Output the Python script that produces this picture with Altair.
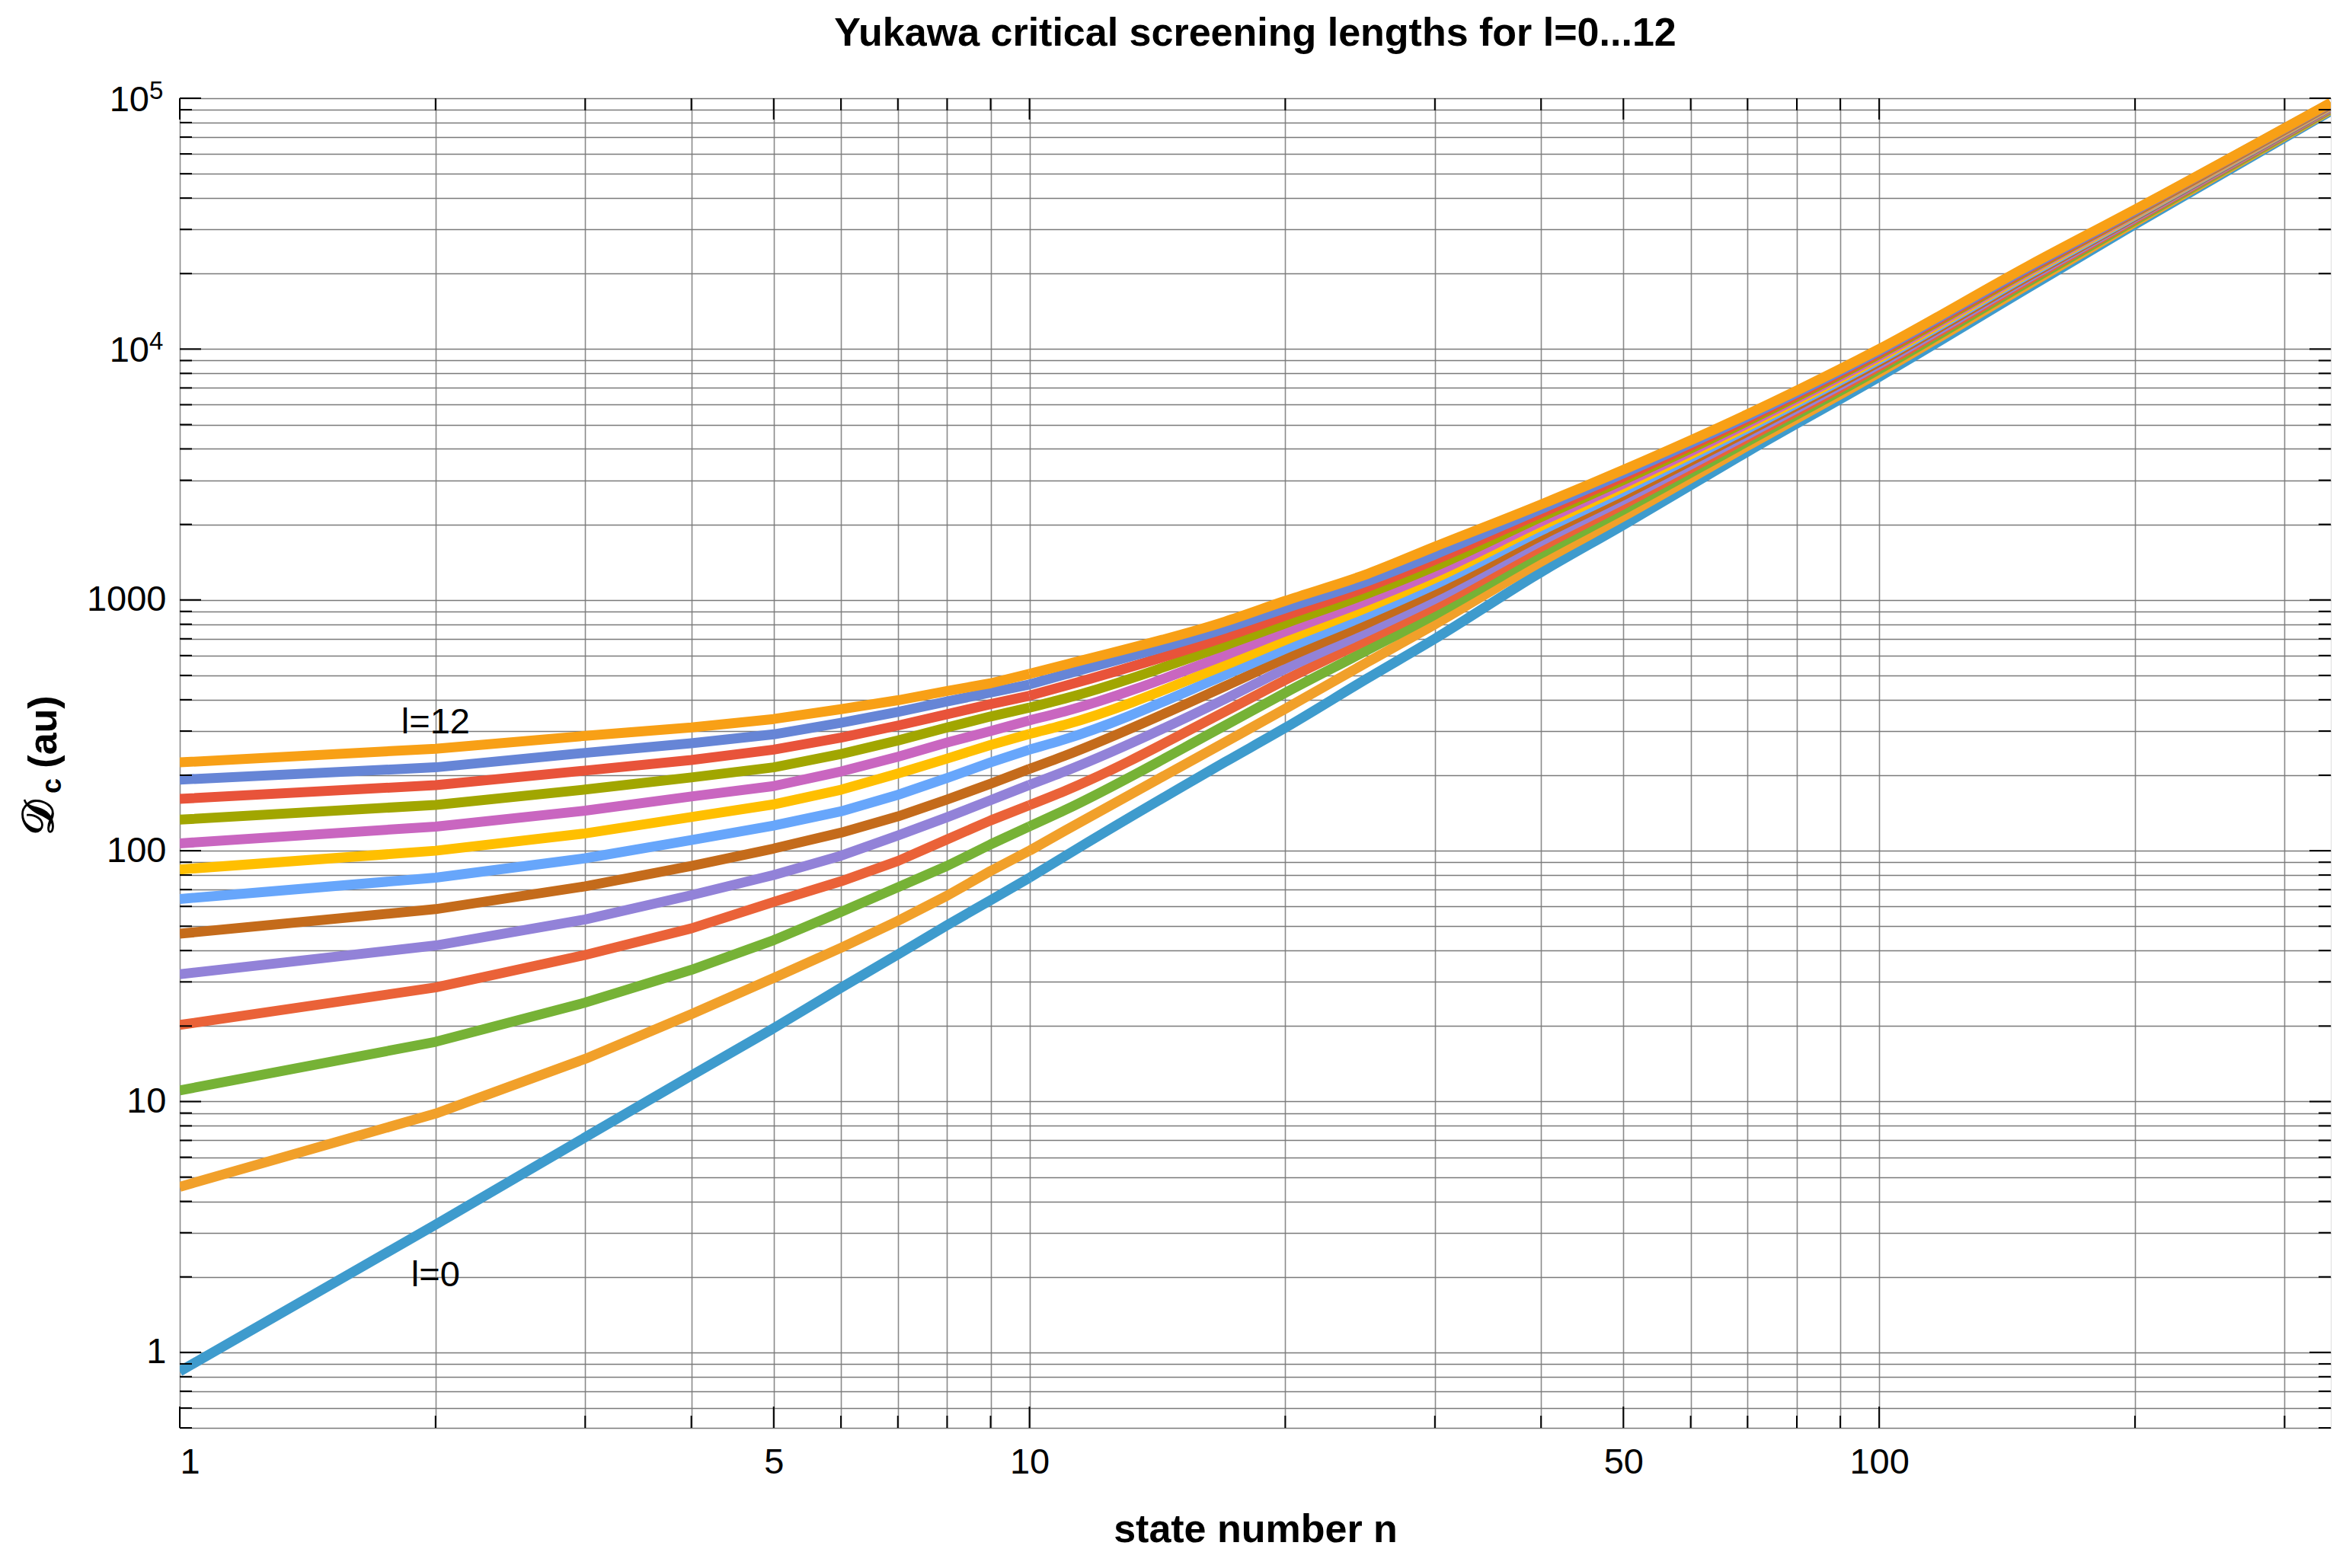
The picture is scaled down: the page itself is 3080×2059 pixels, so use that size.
import altair as alt
import pandas as pd

# ---------------- data ----------------
n_values = [1, 2, 3, 4, 5, 6, 7, 8, 9, 10, 11, 17, 20, 25, 30, 40, 50, 70, 100, 150, 200, 340]

d_l0 = [0.84, 3.23, 7.2, 12.7, 19.6, 28.4, 38.6, 50.5, 63.5, 78, 95, 226, 309, 487, 700, 1290, 1990, 3900, 7750, 17600, 31400, 89000]
d_l1 = [4.57, 8.95, 14.8, 22.3, 31.1, 41, 52.5, 66.2, 83, 100, 120, 271, 368, 565, 799, 1420, 2152, 4114, 8063, 18155, 32075, 90050]
d_l2 = [11.08, 17.3, 24.8, 33.5, 44, 57, 71.5, 87, 106, 125, 145, 316, 426, 631, 874, 1530, 2288, 4287, 8312, 18595, 32604, 90860]
d_l3 = [20.2, 28.5, 38.4, 49, 62.5, 75.5, 91, 111, 132, 152, 173, 359, 479, 694, 944, 1628, 2406, 4436, 8527, 18971, 33058, 91550]
d_l4 = [32.2, 41.9, 53.2, 66.5, 80, 95.5, 115, 136, 159, 183, 207, 403, 531, 750, 1009, 1716, 2511, 4568, 8714, 19297, 33440, 92140]
d_l5 = [46.7, 58.5, 72.1, 87, 102, 118, 137, 160, 185, 212, 239, 453, 584, 809, 1078, 1804, 2615, 4696, 8894, 19606, 33812, 92720]
d_l6 = [64.2, 78.1, 93.3, 110.3, 126, 143.5, 167, 195, 225, 253, 278, 502, 638, 874, 1151, 1890, 2716, 4819, 9066, 19902, 34156, 93230]
d_l7 = [84.2, 100, 117.2, 136.3, 153, 175, 203, 233, 264, 292, 317.5, 550, 692, 934, 1219, 1974, 2814, 4936, 9228, 20184, 34488, 93730]
d_l8 = [107, 124.8, 144.4, 164.5, 181, 207, 237, 270, 300, 331, 359, 602, 748, 995, 1285, 2055, 2908, 5048, 9383, 20450, 34799, 94200]
d_l9 = [133, 152.3, 175.3, 196, 215, 243, 275, 310, 343, 372, 404, 659, 806, 1059, 1360, 2140, 3006, 5162, 9540, 20716, 35104, 94660]
d_l10 = [161, 182.5, 208.7, 230, 253, 282.5, 315.5, 350, 384, 415, 453.5, 712, 865, 1127, 1443, 2221, 3098, 5268, 9687, 20966, 35396, 95100]
d_l11 = [192, 215, 245.5, 268, 291, 323.6, 357.6, 393.8, 427, 460, 503.6, 769, 926, 1188, 1517, 2305, 3193, 5379, 9835, 21224, 35683, 95540]
d_l12 = [225, 255, 287, 310, 335, 366.6, 398, 433, 465, 507, 551, 820, 991, 1270, 1630, 2400, 3300, 5500, 10000, 21500, 36000, 96000]

series = [d_l0, d_l1, d_l2, d_l3, d_l4, d_l5, d_l6, d_l7, d_l8, d_l9, d_l10, d_l11, d_l12]
colors = ["#3E9BCD", "#F1A02A", "#76B236", "#EA6238", "#9282D8", "#C46B1B", "#67A6FB",
          "#FFBF00", "#C966C0", "#A1A600", "#E8533A", "#6685D6", "#F8A016"]

x_grid = [1, 2, 3, 4, 5, 6, 7, 8, 9, 10, 20, 30, 40, 50, 60, 70, 80, 90, 100, 200, 300]
x_major = [1, 5, 10, 50, 100]
y_grid = [0.5, 0.6, 0.7, 0.8, 0.9]
for dec in [1, 10, 100, 1000, 10000]:
    y_grid += [k * dec for k in range(1, 10)]
y_grid += [100000]
y_major = [1, 10, 100, 1000, 10000, 100000]

power_ticks = [10000, 100000]
power_base = ["10", "10"]
power_exp = ["4", "5"]

curve_labels = ["l=12", "l=0"]
curve_label_n = [2, 2]
curve_label_D = [323, 2.03]

title_text = "Yukawa critical screening lengths for l=0...12"
x_title = "state number n"

# ---------------- layout ----------------
W, H = 2824, 1746
FONT = "Liberation Sans"
SPLIT_N = 10  # straight segments at small n, smooth curve beyond

xscale = alt.Scale(type="log", domain=[1, 340], nice=False)
yscale = alt.Scale(type="log", domain=[0.5, 100000], nice=False)

xaxis = alt.Axis(values=x_grid, grid=True, gridColor="#8a8a8a", gridWidth=1.6, ticks=False,
                 domain=False, labelOverlap=False, labelFont=FONT, labelFontSize=47,
                 labelColor="black", labelPadding=22,
                 labelExpr="indexof([1,5,10,50,100], datum.value) >= 0 ? '' + datum.value : ''",
                 title=x_title, titleFont=FONT, titleFontSize=52, titleFontWeight="bold",
                 titleColor="black", titlePadding=40)
yaxis = alt.Axis(values=y_grid, grid=True, gridColor="#7a7a7a", gridWidth=1.6, ticks=False,
                 domain=False, labelOverlap=False, labelFont=FONT, labelFontSize=47,
                 labelColor="black", labelPadding=18, title=None,
                 labelExpr="datum.value == 1 ? '1' : datum.value == 10 ? '10' : datum.value == 100 ? '100' : datum.value == 1000 ? '1000' : ''")


def X(field):
    return alt.X(field, type="quantitative", scale=xscale, axis=xaxis)


def Y(field):
    return alt.Y(field, type="quantitative", scale=yscale, axis=yaxis)


layers = []
for l, vals in enumerate(series):
    df = pd.DataFrame({"n": n_values, "D": vals})
    low = df[df["n"] <= SPLIT_N]
    high = df[df["n"] >= SPLIT_N]
    layers.append(
        alt.Chart(low).mark_line(strokeWidth=13, clip=True, strokeJoin="round", color=colors[l])
        .encode(x=X("n"), y=Y("D"))
    )
    layers.append(
        alt.Chart(high).mark_line(strokeWidth=13, clip=True, strokeJoin="round",
                                  interpolate="monotone", color=colors[l])
        .encode(x=X("n"), y=Y("D"))
    )

# frame ticks (inward)
ytick_df = pd.DataFrame({"D": y_grid, "major": [v in y_major for v in y_grid]})
xtick_df = pd.DataFrame({"n": x_grid, "major": [v in x_major for v in x_grid]})
for major, ln in [(True, 28), (False, 16)]:
    yd = ytick_df[ytick_df["major"] == major]
    xd = xtick_df[xtick_df["major"] == major]
    layers.append(alt.Chart(yd).mark_rule(color="black", strokeWidth=2)
                  .encode(y=Y("D"), x=alt.value(0), x2=alt.value(ln)))
    layers.append(alt.Chart(yd).mark_rule(color="black", strokeWidth=2)
                  .encode(y=Y("D"), x=alt.value(W - ln), x2=alt.value(W)))
    layers.append(alt.Chart(xd).mark_rule(color="black", strokeWidth=2)
                  .encode(x=X("n"), y=alt.value(H - ln), y2=alt.value(H)))
    layers.append(alt.Chart(xd).mark_rule(color="black", strokeWidth=2)
                  .encode(x=X("n"), y=alt.value(0), y2=alt.value(ln)))

# power-of-ten tick labels (10 with superscript exponent)
pw_df = pd.DataFrame({"D": power_ticks, "b": power_base, "e": power_exp})
layers.append(alt.Chart(pw_df).mark_text(font=FONT, fontSize=47, color="black", align="right",
                                         baseline="alphabetic", dy=17)
              .encode(y=Y("D"), x=alt.value(-40), text="b:N"))
layers.append(alt.Chart(pw_df).mark_text(font=FONT, fontSize=33, color="black", align="left",
                                         baseline="alphabetic", dy=1)
              .encode(y=Y("D"), x=alt.value(-40), text="e:N"))

# curve labels
lab_df = pd.DataFrame({"n": curve_label_n, "D": curve_label_D, "t": curve_labels})
layers.append(alt.Chart(lab_df).mark_text(font=FONT, fontSize=47, color="black",
                                          align="center", baseline="middle")
              .encode(x=X("n"), y=Y("D"), text="t:N"))

# chart title
layers.append(alt.Chart(pd.DataFrame({"t": [title_text]})).mark_text(
    font=FONT, fontSize=52, fontWeight="bold", color="black", align="center", baseline="alphabetic")
    .encode(text="t:N", x=alt.value(W / 2), y=alt.value(-69)))

# y axis title: script D with subscript c, then (au)
layers.append(alt.Chart(pd.DataFrame({"t": ["\U0001D49F"]})).mark_text(
    font="DejaVu Sans", fontSize=58, fontWeight="bold", angle=270, align="center",
    baseline="alphabetic", color="black")
    .encode(text="t:N", x=alt.value(-166), y=alt.value(945)))
layers.append(alt.Chart(pd.DataFrame({"t": ["c"]})).mark_text(
    font=FONT, fontSize=36, fontWeight="bold", angle=270, align="center",
    baseline="alphabetic", color="black")
    .encode(text="t:N", x=alt.value(-156), y=alt.value(903)))
layers.append(alt.Chart(pd.DataFrame({"t": ["(au)"]})).mark_text(
    font=FONT, fontSize=52, fontWeight="bold", angle=270, align="center",
    baseline="alphabetic", color="black")
    .encode(text="t:N", x=alt.value(-162), y=alt.value(832)))

chart = alt.layer(*layers).properties(
    width=W, height=H,
    autosize=alt.AutoSizeParams(type="none"),
    padding={"left": 228, "top": 121, "right": 12, "bottom": 176},
).configure_view(stroke="black", strokeWidth=2.5).configure(background="white")

chart.save("out.html", embed_options={"renderer": "svg", "actions": False})
